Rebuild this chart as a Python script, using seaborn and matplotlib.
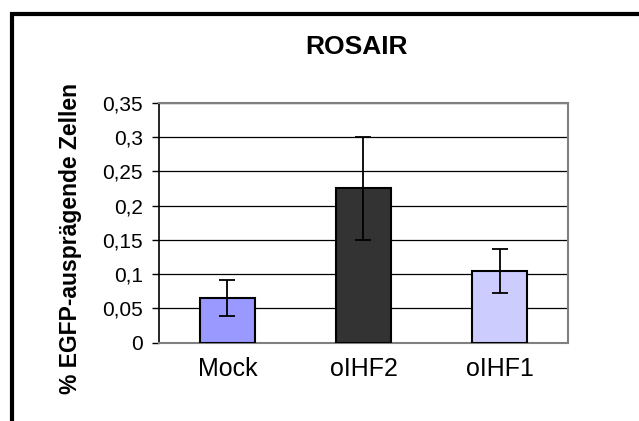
import matplotlib
matplotlib.use("Agg")
import matplotlib.pyplot as plt
import seaborn as sns
from matplotlib.patches import Rectangle

# Daten
groups = ["Mock", "oIHF2", "oIHF1"]
values = [0.065, 0.225, 0.105]
errors = [0.026, 0.075, 0.032]
bar_colors = ["#9999FF", "#333333", "#CCCCFF"]
y_ticks = [0, 0.05, 0.1, 0.15, 0.2, 0.25, 0.3, 0.35]
y_tick_labels = ["0", "0,05", "0,1", "0,15", "0,2", "0,25", "0,3", "0,35"]

sns.set_style("white")
plt.rcParams["font.family"] = ["Liberation Sans", "DejaVu Sans"]
plt.rcParams["text.color"] = "black"
plt.rcParams["axes.labelcolor"] = "black"
plt.rcParams["xtick.color"] = "black"
plt.rcParams["ytick.color"] = "black"

fig = plt.figure(figsize=(6.39, 4.21), dpi=100)
ax = fig.add_axes([0.2493, 0.186, 0.6391, 0.570])

sns.barplot(x=groups, y=values, hue=groups, palette=bar_colors, width=0.4,
            saturation=1, edgecolor="black", linewidth=1.5, legend=False,
            ax=ax, zorder=3)
ax.errorbar(range(len(groups)), values, yerr=errors, fmt="none", ecolor="black",
            elinewidth=1.3, capsize=5.5, capthick=1.3, zorder=4)

ax.set_ylim(0, 0.35)
ax.set_xlim(-0.5, 2.5)
ax.set_yticks(y_ticks)
ax.set_yticklabels(y_tick_labels)
ax.yaxis.grid(True, color="black", linewidth=0.9, zorder=0)
ax.set_axisbelow(True)

for side in ["top", "right", "bottom"]:
    ax.spines[side].set_visible(True)
    ax.spines[side].set_color("#808080")
    ax.spines[side].set_linewidth(1.5)
ax.spines["left"].set_color("black")
ax.spines["left"].set_linewidth(1.2)

ax.tick_params(axis="y", left=True, length=5, width=1, labelsize=15, pad=7)
ax.tick_params(axis="x", bottom=False, labelsize=18, pad=7)
ax.set_xlabel("")
ax.set_ylabel("")

fig.text(71 / 639, 1 - 238 / 421, "% EGFP-ausprägende Zellen", rotation=90,
         ha="center", va="center", fontsize=16.5, fontweight="bold")
fig.text(356.5 / 639, 1 - 47.5 / 421, "ROSAIR", ha="center", va="center",
         fontsize=19, fontweight="bold")

# schwarzer Rahmen (rechts und unten abgeschnitten)
fig.add_artist(Rectangle((11.5 / 639, -0.1), 1.0, 1.1 - 14 / 421,
                         transform=fig.transFigure, fill=False,
                         edgecolor="black", linewidth=3))

fig.savefig("out.png", dpi=100)
